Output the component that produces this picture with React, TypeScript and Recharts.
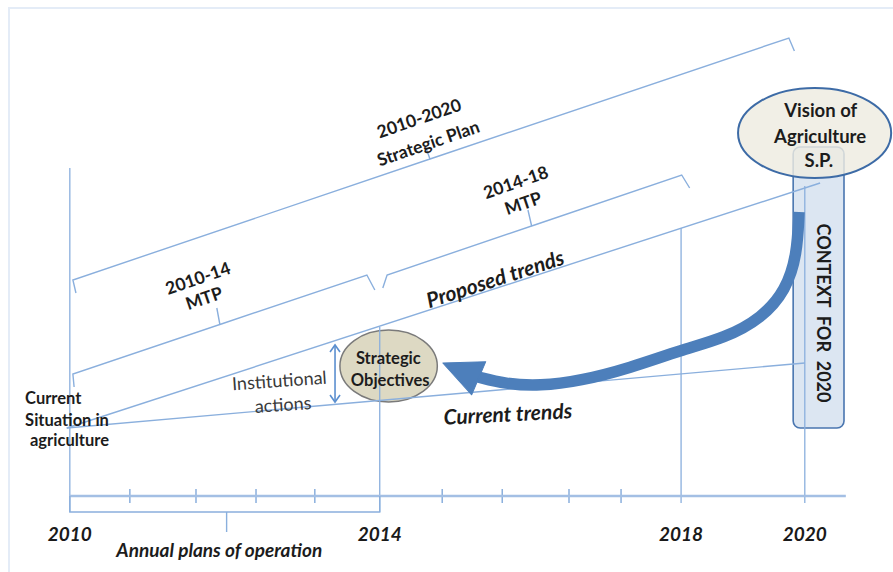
import React from 'react';
import {
  ComposedChart,
  Line,
  XAxis,
  YAxis,
  ReferenceLine,
  ReferenceArea,
  ReferenceDot,
} from 'recharts';

const W = 893;
const H = 572;
const FONT = "Lato, 'Open Sans', 'DejaVu Sans', sans-serif";

// x: annual-plan steps from 2010 (0) ; y: abstract "level" above the time axis
const X_DOMAIN: [number, number] = [-1.14, 13.44];
const Y_DOMAIN: [number, number] = [-7.6, 49.6];

// time axis
const yearSteps = [0, 5.06, 9.98, 12];
const yearLabels = ['2010', '2014', '2018', '2020'];
const annualTickSteps = [0.98, 2.06, 3.04, 4.0, 6.08, 7.06, 8.15, 9.0];
const timeAxis = [
  { u: 0, v: 0 },
  { u: 12.67, v: 0 },
];
const yearVerticals = [
  { u: 0, top: 32.8, bottom: -1.6 },
  { u: 5.06, top: 16.9, bottom: -1.6 },
  { u: 9.98, top: 26.8, bottom: -0.7 },
  { u: 12, top: 31.0, bottom: -0.7 },
];

// trends
const proposedTrend = [
  { u: -0.05, v: 6.8 },
  { u: 12.25, v: 31.3 },
];
const currentTrend = [
  { u: -0.05, v: 6.8 },
  { u: 12.0, v: 13.3 },
];

// brackets
const strategicPlanBracket = [
  { u: 0.1, v: 20.3 },
  { u: 0.05, v: 21.6 },
  { u: 5.88, v: 33.7 },
  { u: 5.81, v: 34.9 },
  { u: 5.88, v: 33.7 },
  { u: 11.74, v: 45.8 },
  { u: 11.83, v: 44.5 },
];
const mtp1Bracket = [
  { u: 0.07, v: 10.9 },
  { u: 0.05, v: 12.2 },
  { u: 2.45, v: 17.15 },
  { u: 2.4, v: 18.8 },
  { u: 2.45, v: 17.15 },
  { u: 4.85, v: 22.1 },
  { u: 4.98, v: 20.6 },
];
const mtp2Bracket = [
  { u: 5.11, v: 20.8 },
  { u: 5.18, v: 22.1 },
  { u: 7.54, v: 27.0 },
  { u: 7.48, v: 28.6 },
  { u: 7.54, v: 27.0 },
  { u: 9.99, v: 32.1 },
  { u: 10.12, v: 30.8 },
];
const annualBracket = [
  { u: 0, v: 0 },
  { u: 0, v: -1.6 },
  { u: 2.56, v: -1.6 },
  { u: 2.56, v: -3.6 },
  { u: 2.56, v: -1.6 },
  { u: 5.06, v: -1.6 },
  { u: 5.06, v: 0 },
];

// curved arrow from the vision back to the strategic objectives (spline guide points)
const visionArrow = [
  { u: 11.906, v: 28.4 },
  { u: 11.873, v: 24.1 },
  { u: 11.693, v: 20.6 },
  { u: 11.301, v: 17.8 },
  { u: 10.697, v: 15.8 },
  { u: 9.979, v: 14.6 },
  { u: 9.147, v: 12.8 },
  { u: 8.33, v: 11.5 },
  { u: 7.677, v: 11.0 },
  { u: 7.106, v: 11.2 },
  { u: 6.665, v: 11.9 },
];
const visionArrowTip = { u: 6.09, v: 13.3 };

// institutional actions (gap between current and proposed trends)
const institutionalGap = { u: 4.33, from: 15.1, to: 9.4 };

// shapes
const strategicObjectives = { u1: 4.41, u2: 6.0, v1: 9.4, v2: 16.6 };
const visionEllipse = { u1: 10.91, u2: 13.41, v1: 31.8, v2: 40.8 };
const contextBox = { u1: 11.81, u2: 12.64, v1: 6.8, v2: 34.9 };

// text annotations
const labels = [
  { id: 'sp1', text: '2010-2020', u: 5.7, v: 37.8 },
  { id: 'sp2', text: 'Strategic Plan', u: 5.85, v: 35.3 },
  { id: 'm1a', text: '2010-14', u: 2.09, v: 21.8 },
  { id: 'm1b', text: 'MTP', u: 2.19, v: 19.8 },
  { id: 'm2a', text: '2014-18', u: 7.28, v: 31.4 },
  { id: 'm2b', text: 'MTP', u: 7.4, v: 29.3 },
  { id: 'prop', text: 'Proposed trends', u: 6.94, v: 21.8 },
  { id: 'cur', text: 'Current trends', u: 7.15, v: 8.3 },
  { id: 'inst1', text: 'Institutional', u: 3.42, v: 11.6 },
  { id: 'inst2', text: 'actions', u: 3.48, v: 9.2 },
  { id: 'sit1', text: 'Current', u: -0.73, v: 9.8 },
  { id: 'sit2', text: 'Situation in', u: -0.73, v: 7.6 },
  { id: 'sit3', text: 'agriculture', u: -0.65, v: 5.6 },
  { id: 'so1', text: 'Strategic', u: 5.2, v: 13.8 },
  { id: 'so2', text: 'Objectives', u: 5.23, v: 11.6 },
  { id: 'vis1', text: 'Vision of', u: 12.26, v: 38.6 },
  { id: 'vis2', text: 'Agriculture', u: 12.25, v: 36.0 },
  { id: 'vis3', text: 'S.P.', u: 12.23, v: 33.6 },
  { id: 'ctx', text: 'CONTEXT  FOR  2020', u: 12.31, v: 18.3 },
  { id: 'apo', text: 'Annual plans of operation', u: 2.44, v: -5.3 },
];

type TextStyle = {
  size: number;
  weight: number;
  italic?: boolean;
  rot: number;
  anchor: 'start' | 'middle' | 'end';
  fill: string;
};

const planStyle: TextStyle = { size: 17.5, weight: 700, rot: -19, anchor: 'middle', fill: '#1c1c1c' };
const styleFor = (id: string): TextStyle => {
  if (['sp1', 'sp2', 'm1a', 'm1b', 'm2a', 'm2b'].includes(id)) return planStyle;
  if (id === 'prop') return { size: 21, weight: 700, italic: true, rot: -18, anchor: 'middle', fill: '#1c1c1c' };
  if (id === 'cur') return { size: 21, weight: 700, italic: true, rot: -3, anchor: 'middle', fill: '#1c1c1c' };
  if (id.startsWith('inst')) return { size: 18, weight: 400, rot: -4, anchor: 'middle', fill: '#3a3a3a' };
  if (id.startsWith('sit')) return { size: 16.5, weight: 700, rot: 0, anchor: 'start', fill: '#1c1c1c' };
  if (id.startsWith('so')) return { size: 16.5, weight: 700, rot: 0, anchor: 'middle', fill: '#1c1c1c' };
  if (id.startsWith('vis')) return { size: 18.5, weight: 700, rot: 0, anchor: 'middle', fill: '#1c1c1c' };
  if (id === 'ctx') return { size: 18, weight: 700, rot: 90, anchor: 'middle', fill: '#1c1c1c' };
  return { size: 19, weight: 700, italic: true, rot: 0, anchor: 'middle', fill: '#1c1c1c' };
};

const LINE = '#8aafdd';
const ARROW = '#4d7fbb';

const makeTextShape = (text: string, st: TextStyle) => (p: any) => (
  <text
    x={p.cx}
    y={p.cy}
    textAnchor={st.anchor}
    dominantBaseline="central"
    transform={st.rot ? `rotate(${st.rot}, ${p.cx}, ${p.cy})` : undefined}
    style={{
      fontFamily: FONT,
      fontSize: st.size,
      fontWeight: st.weight,
      fontStyle: st.italic ? 'italic' : 'normal',
      fill: st.fill,
      whiteSpace: 'pre',
    }}
  >
    {text}
  </text>
);

const ellipseShape = (fill: string, stroke: string, sw: number, fillOpacity = 1) => (p: any) => (
  <ellipse
    cx={p.x + p.width / 2}
    cy={p.y + p.height / 2}
    rx={p.width / 2}
    ry={p.height / 2}
    fill={fill}
    fillOpacity={fillOpacity}
    stroke={stroke}
    strokeWidth={sw}
  />
);

const boxShape = (p: any) => (
  <rect
    x={p.x}
    y={p.y}
    width={p.width}
    height={p.height}
    rx={7}
    ry={7}
    fill="#dce6f2"
    stroke="#4a76b0"
    strokeWidth={1.6}
  />
);

const doubleArrowShape = (p: any) => {
  const { x1, y1, x2, y2 } = p;
  const top = Math.min(y1, y2);
  const bot = Math.max(y1, y2);
  return (
    <g stroke="#5b8fcf" strokeWidth={1.6} fill="none">
      <line x1={x1} y1={top} x2={x2} y2={bot} />
      <polyline points={`${x1 - 5},${top + 7} ${x1},${top} ${x1 + 5},${top + 7}`} />
      <polyline points={`${x1 - 5},${bot - 7} ${x1},${bot} ${x1 + 5},${bot - 7}`} />
    </g>
  );
};

const arrowHeadShape = (p: any) => (
  <polygon
    points="0,0 -39,-18 -39,18"
    transform={`translate(${p.cx}, ${p.cy}) rotate(203)`}
    fill={ARROW}
    stroke={ARROW}
    strokeWidth={1}
    strokeLinejoin="round"
  />
);

export default function App() {
  return (
    <div style={{ position: 'relative', width: W, height: H, background: '#fff' }}>
      <style>{'html,body{margin:0;padding:0;overflow:hidden;background:#fff;}'}</style>
      <div
        style={{
          position: 'absolute',
          left: 8,
          top: 7,
          right: 0,
          bottom: 0,
          borderTop: '2px solid #e4ecf7',
          borderLeft: '2px solid #e4ecf7',
          pointerEvents: 'none',
        }}
      />
      <ComposedChart width={W} height={H} margin={{ top: 0, right: 0, bottom: 0, left: 0 }}>
        <XAxis
          dataKey="u"
          type="number"
          domain={X_DOMAIN}
          allowDataOverflow
          ticks={yearSteps}
          interval={0}
          mirror
          height={30}
          axisLine={false}
          tickLine={false}
          tickMargin={25}
          tickFormatter={(val: number) => {
            const i = yearSteps.indexOf(val);
            return i >= 0 ? yearLabels[i] : '';
          }}
          tick={{
            fill: '#1a1a1a',
            fontSize: 19,
            fontWeight: 700,
            fontStyle: 'italic',
            fontFamily: FONT,
          }}
        />
        <YAxis type="number" domain={Y_DOMAIN} allowDataOverflow hide />

        <ReferenceArea
          x1={strategicObjectives.u1}
          x2={strategicObjectives.u2}
          y1={strategicObjectives.v1}
          y2={strategicObjectives.v2}
          shape={ellipseShape('#ddd9c3', '#7a7a7a', 1.5)}
        />
        <ReferenceArea
          x1={contextBox.u1}
          x2={contextBox.u2}
          y1={contextBox.v1}
          y2={contextBox.v2}
          shape={boxShape}
        />
        <ReferenceArea
          x1={visionEllipse.u1}
          x2={visionEllipse.u2}
          y1={visionEllipse.v1}
          y2={visionEllipse.v2}
          shape={ellipseShape('#eeece1', '#3d6ba6', 2, 0.82)}
        />

        {yearVerticals.map((d) => (
          <ReferenceLine
            key={`yv${d.u}`}
            segment={[
              { x: d.u, y: d.top },
              { x: d.u, y: d.bottom },
            ]}
            stroke={LINE}
            strokeWidth={1.3}
          />
        ))}
        {annualTickSteps.map((t) => (
          <ReferenceLine
            key={`at${t}`}
            segment={[
              { x: t, y: 0.7 },
              { x: t, y: -0.7 },
            ]}
            stroke={LINE}
            strokeWidth={1.5}
          />
        ))}

        <Line data={timeAxis} dataKey="v" stroke="#a3bfe4" strokeWidth={2.4} dot={false} activeDot={false} isAnimationActive={false} />
        <Line data={annualBracket} dataKey="v" stroke={LINE} strokeWidth={1.4} dot={false} activeDot={false} isAnimationActive={false} />
        <Line data={strategicPlanBracket} dataKey="v" stroke={LINE} strokeWidth={1.4} dot={false} activeDot={false} isAnimationActive={false} />
        <Line data={mtp1Bracket} dataKey="v" stroke={LINE} strokeWidth={1.4} dot={false} activeDot={false} isAnimationActive={false} />
        <Line data={mtp2Bracket} dataKey="v" stroke={LINE} strokeWidth={1.4} dot={false} activeDot={false} isAnimationActive={false} />
        <Line data={proposedTrend} dataKey="v" stroke={LINE} strokeWidth={1.4} dot={false} activeDot={false} isAnimationActive={false} />
        <Line data={currentTrend} dataKey="v" stroke={LINE} strokeWidth={1.4} dot={false} activeDot={false} isAnimationActive={false} />
        <Line
          data={visionArrow}
          dataKey="v"
          type="basis"
          stroke={ARROW}
          strokeWidth={11.5}
          strokeLinecap="butt"
          dot={false}
          activeDot={false}
          isAnimationActive={false}
        />

        <ReferenceDot x={visionArrowTip.u} y={visionArrowTip.v} r={0} shape={arrowHeadShape} />
        <ReferenceLine
          segment={[
            { x: institutionalGap.u, y: institutionalGap.from },
            { x: institutionalGap.u, y: institutionalGap.to },
          ]}
          shape={doubleArrowShape}
        />

        {labels.map((l) => (
          <ReferenceDot key={l.id} x={l.u} y={l.v} r={0} shape={makeTextShape(l.text, styleFor(l.id))} />
        ))}
      </ComposedChart>
    </div>
  );
}
